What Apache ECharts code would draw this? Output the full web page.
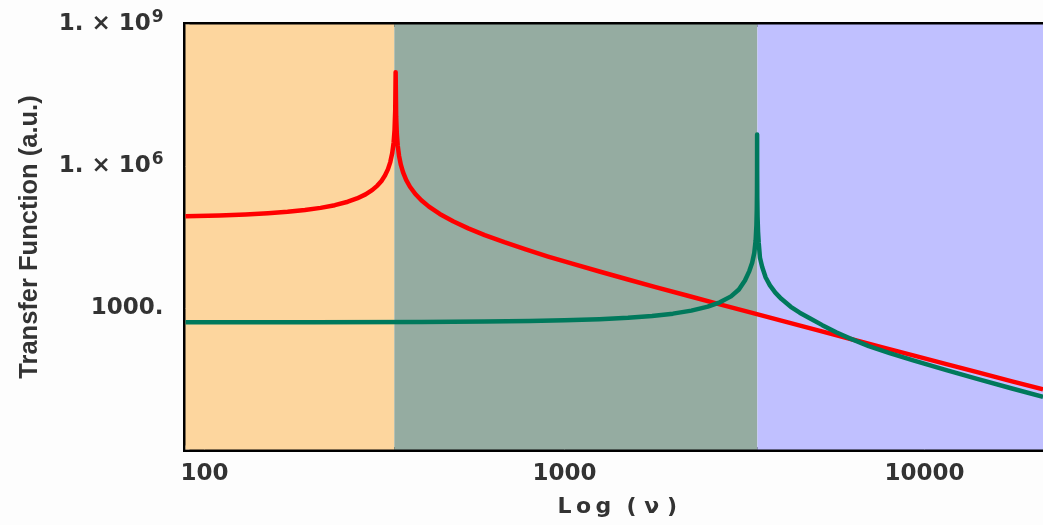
<!DOCTYPE html>
<html>
<head>
<meta charset="utf-8">
<script src="https://cdn.jsdelivr.net/npm/echarts@6/dist/echarts.min.js"></script>
<style>
  html, body { margin: 0; padding: 0; background: #fdfdfd; overflow: hidden; }
  #chart { width: 1043px; height: 525px; }
</style>
</head>
<body>
<div id="chart"></div>
<script>
// Frequencies (x) and transfer function values (y)
const redX = [88.5, 110, 130, 150, 170, 190, 210, 230, 250, 265, 280, 292, 302, 310, 317, 323, 328, 332, 335, 337, 338.5, 339.4, 340.5, 342, 344, 347, 351, 356, 363, 372, 385, 400, 420, 450, 490, 540, 600, 680, 780, 900, 1050, 1250, 1500, 1800, 2200, 2700, 3300, 4000, 5000, 6200, 7600, 9300, 11500, 14000, 17500, 21340];
const redY = [8.66e4, 9.02e4, 9.46e4, 1.003e5, 1.078e5, 1.176e5, 1.308e5, 1.493e5, 1.765e5, 2.07e5, 2.53e5, 3.11e5, 3.88e5, 4.87e5, 6.33e5, 8.56e5, 1.22e6, 1.87e6, 3.13e6, 5.7e6, 1.5e7, 9.8e7, 1.13e7, 4.8e6, 2.7e6, 1.63e6, 1.06e6, 7.36e5, 5.13e5, 3.67e5, 2.57e5, 1.9e5, 1.39e5, 9.74e4, 6.8e4, 4.82e4, 3.47e4, 2.45e4, 1.72e4, 1.22e4, 8610, 5870, 3980, 2720, 1800, 1185, 789, 535, 342, 222, 147, 98.4, 64.3, 43.4, 27.8, 18.7];

const greenX = [88.5, 200, 400, 600, 800, 1000, 1250, 1500, 1750, 2000, 2250, 2500, 2700, 2900, 3050, 3170, 3260, 3320, 3365, 3395, 3412, 3420, 3424, 3426, 3427, 3428, 3431, 3437, 3447, 3462, 3490, 3540, 3620, 3720, 3850, 4000, 4250, 4500, 4800, 5200, 5700, 6200, 7000, 8000, 9300, 11500, 14000, 17500, 21340];
const greenY = [496, 498, 503, 512, 525, 543, 573, 614, 672, 753, 873, 1061, 1309, 1749, 2450, 3800, 6000, 9000, 1.45e4, 2.7e4, 5.7e4, 1.22e5, 2.83e5, 8.3e5, 4.7e6, 8.2e5, 2.1e5, 8.4e4, 4.18e4, 2.39e4, 1.15e4, 7300, 4400, 3000, 2100, 1550, 1050, 790, 600, 430, 300, 225, 155, 110, 77.2, 47.9, 31.3, 19.6, 13.0];

// Background frequency bands
const bandEdges = [88.5, 336.5, 3433, 22170];
const bandColors = ['#fdd69e', '#95aca1', '#c0c0ff'];

const xMin = 88.5, xMax = 22170;
const yMin = 1, yMax = 1e9;
const yTickLabels = { 1000: '{a|1000.}', 1000000: '{a|1. × 10}{s|6}', 1000000000: '{a|1. × 10}{s|9}' };
const xTickLabels = { 100: '100', 1000: '1000', 10000: '10000' };

const zip = (xs, ys) => xs.map((x, i) => [x, ys[i]]);

const bands = [];
for (let i = 0; i < bandColors.length; i++) {
  bands.push([{ xAxis: bandEdges[i], itemStyle: { color: bandColors[i] } }, { xAxis: bandEdges[i + 1] }]);
}

const matchKey = (table, v) => {
  for (const key in table) {
    const k = Number(key);
    if (Math.abs(v - k) < 1e-6 * k) return table[key];
  }
  return '';
};

const chart = echarts.init(document.getElementById('chart'), null, { renderer: 'canvas' });
const labelFont = 'DejaVu Sans';
chart.setOption({
  backgroundColor: '#fdfdfd',
  animation: false,
  grid: { left: 185.5, right: -6, top: 24.5, bottom: 75.5, containLabel: false, outerBoundsMode: 'none' },
  xAxis: [{
    type: 'log', logBase: 10, min: xMin, max: xMax,
    name: 'L\u2009o\u2009g  ( ν )', nameLocation: 'middle', nameGap: 47,
    nameTextStyle: { fontFamily: labelFont, fontWeight: 'bold', fontSize: 22, color: '#333' },
    axisLine: { lineStyle: { color: '#000', width: 5, cap: 'square' } },
    axisTick: { inside: true, length: 4, lineStyle: { color: '#555' } },
    axisLabel: {
      margin: 13, fontFamily: labelFont, fontWeight: 'bold', fontSize: 23, color: '#333',
      formatter: v => matchKey(xTickLabels, v)
    },
    splitLine: { show: false }
  }, {
    type: 'log', logBase: 10, min: xMin, max: xMax, position: 'top',
    axisLine: { lineStyle: { color: '#000', width: 5, cap: 'square' } },
    axisTick: { show: false }, axisLabel: { show: false }, splitLine: { show: false }
  }],
  yAxis: {
    type: 'log', logBase: 10, min: yMin, max: yMax, interval: 3,
    name: 'Transfer Function (a.u.)', nameLocation: 'middle', nameGap: 143, nameRotate: 90,
    nameTextStyle: { fontFamily: 'Liberation Sans', fontWeight: 'bold', fontSize: 25.5, color: '#333' },
    axisLine: { lineStyle: { color: '#000', width: 5, cap: 'square' } },
    axisTick: { inside: true, length: 4, lineStyle: { color: '#555' } },
    axisLabel: {
      margin: 22, color: '#333',
      formatter: v => matchKey(yTickLabels, v),
      rich: {
        a: { fontFamily: labelFont, fontWeight: 'bold', fontSize: 23, color: '#333' },
        s: { fontFamily: labelFont, fontWeight: 'bold', fontSize: 17, color: '#333', padding: [0, 0, 14, 1] }
      }
    },
    splitLine: { show: false }
  },
  series: [
    {
      type: 'line', z: 0, data: [], silent: true,
      markArea: { silent: true, data: bands }
    },
    {
      name: 'red', type: 'line', z: 3, data: zip(redX, redY), showSymbol: false,
      smooth: false, lineStyle: { color: '#ff0000', width: 4.5, join: 'round' }
    },
    {
      name: 'green', type: 'line', z: 4, data: zip(greenX, greenY), showSymbol: false,
      smooth: false, lineStyle: { color: '#00795c', width: 4.5, join: 'round' }
    }
  ]
});
</script>
</body>
</html>
